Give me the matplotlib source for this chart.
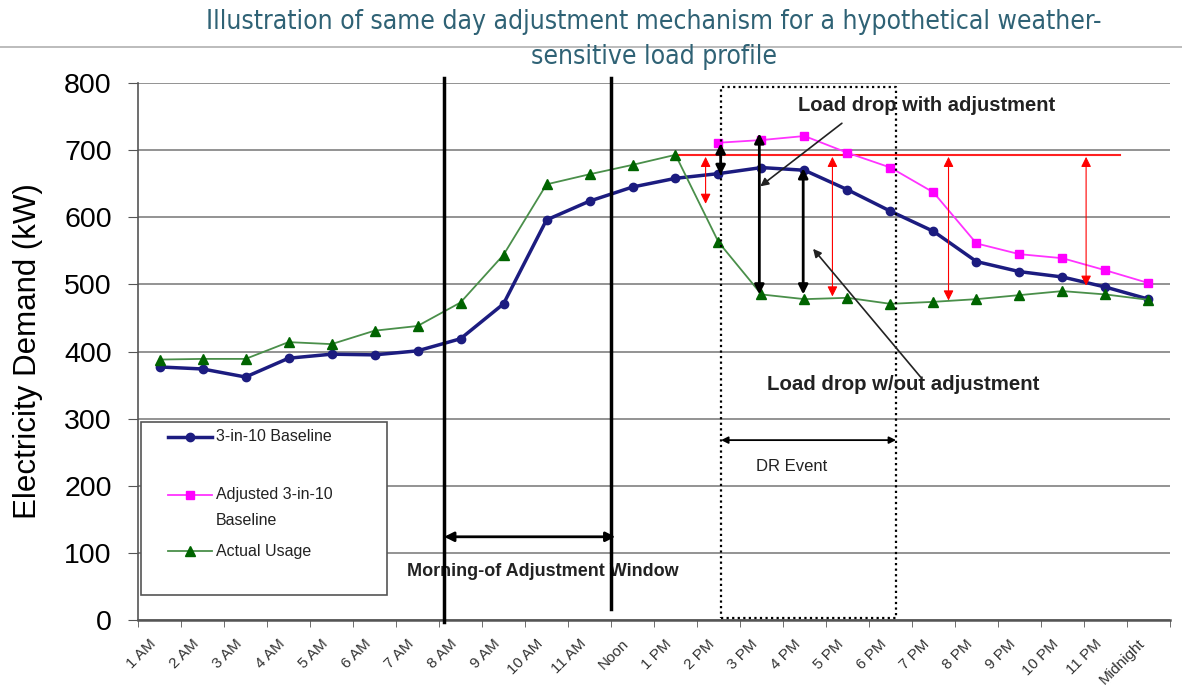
import matplotlib.pyplot as plt
from matplotlib.lines import Line2D
from matplotlib.patches import Rectangle

plt.rcParams['font.family'] = ['Liberation Sans', 'DejaVu Sans']

# Hourly values (kW).
hours = ['1 AM', '2 AM', '3 AM', '4 AM', '5 AM', '6 AM', '7 AM', '8 AM', '9 AM',
         '10 AM', '11 AM', 'Noon', '1 PM', '2 PM', '3 PM', '4 PM', '5 PM', '6 PM',
         '7 PM', '8 PM', '9 PM', '10 PM', '11 PM', 'Midnight']
baseline = [377, 374, 362, 390, 396, 395, 401, 419, 471, 596, 624, 645,
            658, 665, 674, 670, 641, 609, 579, 534, 519, 511, 496, 478]
adjusted_hours = ['2 PM', '3 PM', '4 PM', '5 PM', '6 PM', '7 PM', '8 PM',
                  '9 PM', '10 PM', '11 PM', 'Midnight']
adjusted = [711, 715, 721, 696, 674, 637, 561, 545, 539, 521, 502]
actual = [388, 389, 389, 414, 411, 431, 438, 473, 544, 649, 664, 678,
          693, 563, 485, 478, 480, 471, 474, 478, 484, 490, 485, 477]

x = list(range(1, len(hours) + 1))
x_adj = [hours.index(h) + 1 for h in adjusted_hours]

fig = plt.figure(figsize=(11.82, 6.91), dpi=100)
ax = fig.add_axes([0.1168, 0.1027, 0.873, 0.7772])

ax.set_xlim(0.5, 24.5)
ax.set_ylim(0, 800)

# Grid and frame
ax.set_yticks(range(0, 801, 100))
ax.yaxis.grid(True, color='#808080', linewidth=1.2)
ax.set_axisbelow(True)
for s in ['top', 'right']:
    ax.spines[s].set_visible(False)
ax.spines['left'].set_color('#555555')
ax.spines['bottom'].set_color('#555555')
ax.spines['left'].set_linewidth(1.2)
ax.spines['bottom'].set_linewidth(1.8)

# rotated labels end a little left of each category centre, like Excel
ax.set_xticks([v - 0.25 for v in x])
ax.set_xticklabels(hours, rotation=45, ha='right', rotation_mode='anchor',
                   fontsize=11, color='#333333')
ax.set_xticks([i + 0.5 for i in range(0, 25)], minor=True)
ax.tick_params(axis='x', which='major', length=0, pad=12)
ax.tick_params(axis='x', which='minor', length=5, color='#555555')
ax.tick_params(axis='y', labelsize=20.5, length=7, color='#555555', pad=12)
ax.set_ylabel('Electricity Demand (kW)', fontsize=22.5, labelpad=15)

# Series
ax.plot(x, baseline, color='#1c1c80', linewidth=2.5, marker='o', markersize=6, zorder=5)
ax.plot(x_adj, adjusted, color='#ff33ff', linewidth=1.3, marker='s', markersize=6,
        markerfacecolor='#ff00ff', markeredgecolor='#ff00ff', zorder=5)
ax.plot(x, actual, color='#4a8f4a', linewidth=1.3, marker='^', markersize=7,
        markerfacecolor='#006400', markeredgecolor='#006400', zorder=5)

# Red reference line and red double arrows
ax.plot([13.0, 23.35], [693, 693], color='#ff2020', linewidth=1.5, zorder=4)
red_arrows = [(13.7, 690, 620), (16.65, 690, 482), (19.35, 690, 476), (22.55, 690, 498)]
for xa, y0, y1 in red_arrows:
    ax.annotate('', xy=(xa, y1), xytext=(xa, y0),
                arrowprops=dict(arrowstyle='<|-|>', color='#ff0000', lw=0.8,
                                mutation_scale=15, shrinkA=0, shrinkB=0), zorder=6)

# Black double arrows (load drop)
black_arrows = [(14.05, 710, 663), (14.95, 725, 485), (15.97, 673, 485)]
for xa, y0, y1 in black_arrows:
    ax.annotate('', xy=(xa, y1), xytext=(xa, y0),
                arrowprops=dict(arrowstyle='<|-|>', color='black', lw=2,
                                mutation_scale=14, shrinkA=0, shrinkB=0), zorder=7)

# Morning-of window lines
ax.plot([7.62, 7.62], [-3, 808], color='black', linewidth=2.5, clip_on=False, zorder=8)
ax.plot([11.5, 11.5], [17, 808], color='black', linewidth=2.5, clip_on=False, zorder=8)
ax.annotate('', xy=(11.6, 124), xytext=(7.62, 124),
            arrowprops=dict(arrowstyle='<|-|>', color='black', lw=2,
                            mutation_scale=14, shrinkA=0, shrinkB=0))
ax.text(9.92, 72, 'Morning-of Adjustment Window', ha='center', va='center',
        fontsize=13, fontweight='bold', color='#222222')

# DR event box
ax.plot([14.06, 18.13, 18.13, 14.06, 14.06], [3, 3, 794, 794, 3], color='black',
        linewidth=1.6, linestyle=(0, (1, 1.5)), zorder=6)
ax.annotate('', xy=(18.13, 268), xytext=(14.06, 268),
            arrowprops=dict(arrowstyle='<|-|>', color='black', lw=1.3,
                            mutation_scale=10, shrinkA=0, shrinkB=0))
ax.text(15.7, 229, 'DR Event', ha='center', va='center', fontsize=12, color='#222222')

# Callouts
ax.text(18.83, 767, 'Load drop with adjustment', ha='center', va='center',
        fontsize=14.5, fontweight='bold', color='#222222', zorder=9)
ax.annotate('', xy=(14.97, 646), xytext=(16.87, 740),
            arrowprops=dict(arrowstyle='-|>', color='#222222', lw=1.2,
                            mutation_scale=12, shrinkA=0, shrinkB=0), zorder=9)
ax.text(18.3, 351, 'Load drop w/out adjustment', ha='center', va='center',
        fontsize=14.7, fontweight='bold', color='#222222', zorder=9)
ax.annotate('', xy=(16.2, 553), xytext=(18.7, 362),
            arrowprops=dict(arrowstyle='-|>', color='#222222', lw=1.2,
                            mutation_scale=12, shrinkA=0, shrinkB=0), zorder=9)

# Legend box drawn by hand (positions in axes fraction)
ax.add_patch(Rectangle((0.003, 0.047), 0.238, 0.322, transform=ax.transAxes,
                       facecolor='white', edgecolor='#555555', linewidth=1.2, zorder=9))
legend_rows = [
    (0.341, dict(color='#1c1c80', lw=2.5, marker='o', ms=6), ['3-in-10 Baseline']),
    (0.233, dict(color='#ff33ff', lw=1.3, marker='s', ms=6, mfc='#ff00ff', mec='#ff00ff'),
     ['Adjusted 3-in-10', 'Baseline']),
    (0.128, dict(color='#4a8f4a', lw=1.3, marker='^', ms=7, mfc='#006400', mec='#006400'),
     ['Actual Usage']),
]
for yy, style, lines in legend_rows:
    ax.add_line(Line2D([0.029, 0.0505, 0.072], [yy, yy, yy], transform=ax.transAxes,
                       markevery=[1], zorder=10, **style))
    for k, line in enumerate(lines):
        ax.text(0.0755, yy - k * 0.047, line, transform=ax.transAxes, ha='left',
                va='center', fontsize=11.5, color='#222222', zorder=10)

# Slide title and separator
fig.add_artist(Line2D([0, 1], [1 - 47 / 691, 1 - 47 / 691], color='#b0b0b0',
                      linewidth=1.2, transform=fig.transFigure))
fig.text(0.553, 1 - 22 / 691, 'Illustration of same day adjustment mechanism for a hypothetical weather-',
         ha='center', va='center', fontsize=19, color='#2f6275',
         family='DejaVu Sans', fontstretch='condensed')
fig.text(0.553, 1 - 57 / 691, 'sensitive load profile',
         ha='center', va='center', fontsize=19, color='#2f6275',
         family='DejaVu Sans', fontstretch='condensed')

fig.savefig('out.png', dpi=100)
